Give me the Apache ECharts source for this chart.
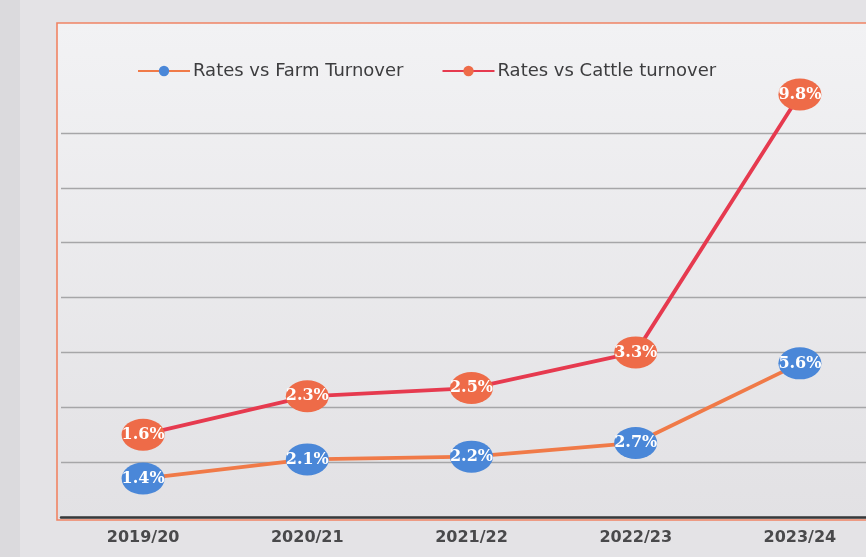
<!DOCTYPE html>
<html>
<head>
<meta charset="utf-8">
<script src="https://cdn.jsdelivr.net/npm/echarts@6/dist/echarts.min.js"></script>
<style>
  html, body { margin: 0; padding: 0; background: #e4e3e6; overflow: hidden; }
  /* the plot runs past the right edge of the window */
  #chart { width: 900px; height: 557px; }
</style>
</head>
<body>
<div id="chart"></div>
<script>
// Years on the category axis
const years = ['2019/20', '2020/21', '2021/22', '2022/23', '2023/24'];
// Rates as a share of turnover (%), stacked one on the other
const farmRates = [1.4, 2.1, 2.2, 2.7, 5.6];
const cattleRates = [1.6, 2.3, 2.5, 3.3, 9.8];
const seriesNames = ['Rates vs Farm Turnover', 'Rates vs Cattle turnover'];

const chart = echarts.init(document.getElementById('chart'), null, { renderer: 'canvas' });

const pointLabel = {
  show: true,
  position: 'inside',
  color: '#ffffff',
  fontFamily: 'DejaVu Serif',
  fontWeight: 'bold',
  fontSize: 16,
  formatter: p => p.value.toFixed(1) + '%'
};

chart.setOption({
  backgroundColor: '#e4e3e6',
  animation: false,
  graphic: [
    { type: 'rect', silent: true, z: -10,
      shape: { x: 0, y: 0, width: 20, height: 557 },
      style: { fill: '#dbdadd' } },
    { type: 'rect', silent: true, z: -9,
      shape: { x: 57, y: 23, width: 880, height: 497 },
      style: {
        fill: new echarts.graphic.LinearGradient(0, 0, 0, 1, [
          { offset: 0, color: '#f2f2f4' },
          { offset: 1, color: '#e2e1e4' }
        ]),
        stroke: '#f08464', lineWidth: 1.6
      } }
  ],
  legend: {
    top: 57,
    left: 132,
    itemGap: 38,
    itemWidth: 52,
    itemHeight: 13,
    textStyle: { fontFamily: 'DejaVu Sans', fontSize: 18, color: '#3d3d3f', padding: [0, 0, 0, -2] },
    data: seriesNames
  },
  grid: { left: 61, top: 78, width: 821, height: 439 },
  xAxis: {
    type: 'category',
    data: years,
    boundaryGap: true,
    axisLine: { lineStyle: { color: '#37393a', width: 2.5 } },
    axisTick: { show: false },
    axisLabel: {
      margin: 13,
      fontFamily: 'DejaVu Sans',
      fontWeight: 'bold',
      fontSize: 16,
      color: '#49494b'
    }
  },
  yAxis: {
    type: 'value',
    min: 0,
    max: 16,
    interval: 2,
    axisLine: { show: false },
    axisTick: { show: false },
    axisLabel: { show: false },
    splitLine: { showMaxLine: false, lineStyle: { color: '#a6a6a8', width: 1.3 } }
  },
  series: [
    {
      name: seriesNames[0],
      type: 'line',
      stack: 'total',
      data: farmRates,
      symbol: 'circle',
      symbolSize: [43, 32],
      itemStyle: { color: '#4a87d8' },
      lineStyle: { color: '#f07a48', width: 3.8 },
      label: pointLabel,
      z: 3
    },
    {
      name: seriesNames[1],
      type: 'line',
      stack: 'total',
      data: cattleRates,
      symbol: 'circle',
      symbolSize: [43, 32],
      itemStyle: { color: '#ee6b48' },
      lineStyle: { color: '#e63a4f', width: 3.8 },
      label: pointLabel,
      z: 4
    }
  ]
});
</script>
</body>
</html>
